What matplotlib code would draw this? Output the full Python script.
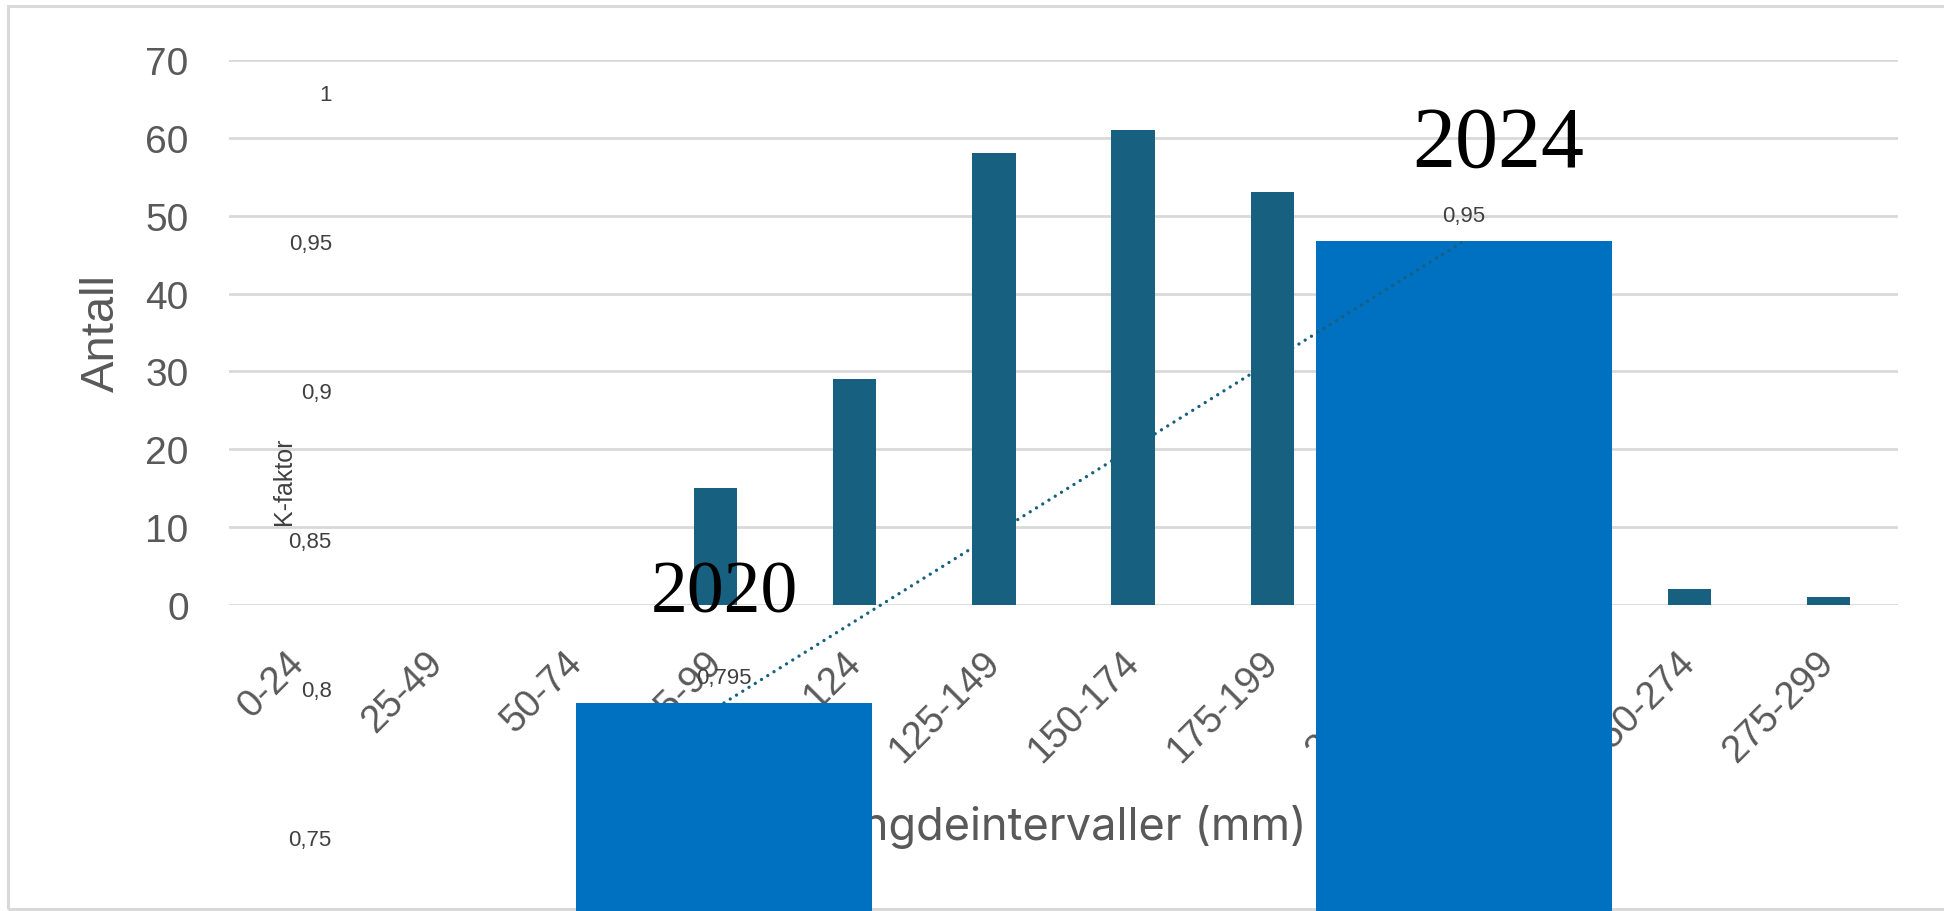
import numpy as np
import matplotlib
matplotlib.use("Agg")
import matplotlib.pyplot as plt
from matplotlib.patches import Rectangle
from matplotlib.lines import Line2D
from matplotlib.ticker import FixedLocator, FuncFormatter

# ---------------- data ----------------
length_bins = ["0-24", "25-49", "50-74", "75-99", "100-124", "125-149",
               "150-174", "175-199", "200-224", "225-249", "250-274", "275-299"]
counts = [0, 0, 0, 15, 29, 58, 61, 53, 30, 10, 2, 1]

years = ["2020", "2024"]
k_factor = [0.795, 0.95]
k_ticks = [0.75, 0.80, 0.85, 0.90, 0.95, 1.00]

# ---------------- style ----------------
TEAL = "#17607F"
BLUE = "#0070C0"
GRID = "#D9D9D9"
GRAY = "#595959"
DARK = "#404040"
W, H = 1944, 912

plt.rcParams["font.family"] = ["Liberation Sans", "DejaVu Sans"]

fig = plt.figure(figsize=(W / 100, H / 100), dpi=100)
fig.patch.set_facecolor("white")

def fig_rect(left, top, right, bottom):
    return [left / W, 1 - bottom / H, (right - left) / W, (bottom - top) / H]

# outer frame
fig.add_artist(Rectangle((8 / W, 1 - 910 / H), (1970 - 8) / W, (910 - 7) / H,
                         transform=fig.transFigure, fill=False, ec=GRID, lw=2.2,
                         zorder=-1, clip_on=False))

# ---------------- histogram (Antall) ----------------
ax1 = fig.add_axes(fig_rect(229, 61, 1898, 606))
ax1.set_zorder(0)
x = np.arange(len(length_bins))
ax1.set_xlim(-0.5, len(length_bins) - 0.5)
ax1.set_ylim(0, 70)
ax1.set_yticks(np.arange(0, 71, 10))
ax1.set_axisbelow(True)
ax1.yaxis.grid(True, color=GRID, lw=2.0)
for s in ax1.spines.values():
    s.set_visible(False)
ax1.bar(x, counts, width=0.31, color=TEAL, zorder=1)
ax1.set_xticks(x)
ax1.set_xticklabels(length_bins, rotation=45, ha="right", va="center",
                    rotation_mode="anchor", fontsize=27.5, color=GRAY)
ax1.tick_params(axis="x", length=0, pad=37)
ax1.tick_params(axis="y", length=0, pad=29, labelsize=28, labelcolor=GRAY)
ax1.set_ylabel("Antall", fontsize=34, color=GRAY, va="center")
ax1.yaxis.set_label_coords((102 - 229) / 1669, 0.5)
ax1.set_xlabel("Lengdeintervaller (mm)", fontsize=32.5, color=GRAY,
               family=["Inter", "DejaVu Sans"], va="baseline")
ax1.xaxis.set_label_coords(0.497, (606 - 840) / 545)

# ---------------- K-faktor chart ----------------
ax2 = fig.add_axes(fig_rect(354, 93, 1834, 912))
ax2.set_zorder(1)
ax2.patch.set_visible(False)
for s in ax2.spines.values():
    s.set_visible(False)
xk = np.arange(len(years))
ax2.set_xlim(-0.5, len(years) - 0.5)
ax2.set_ylim(1.0 - 819 / 2980, 1.0)
ax2.set_xticks([])
ax2.yaxis.set_major_locator(FixedLocator(k_ticks))
ax2.yaxis.set_major_formatter(FuncFormatter(lambda v, p: f"{v:g}".replace(".", ",")))
ax2.tick_params(axis="y", length=0, pad=16, labelsize=16, labelcolor=DARK)

kbars = ax2.bar(xk, k_factor, width=0.4, color=BLUE, zorder=1)

for i, v in enumerate(k_factor):
    ax2.annotate(f"{v:g}".replace(".", ","), (xk[i], v), xytext=(0, 18),
                 textcoords="offset points", ha="center", va="center",
                 fontsize=16, color=DARK, zorder=5)

# linear trend line through K-faktor values
coef = np.polyfit(xk, k_factor, 1)
yt = np.polyval(coef, xk)
dot_style = dict(color=TEAL, lw=2.4, linestyle=(0, (0.01, 2.2)),
                 dash_capstyle="round")
# copy drawn beneath the histogram bars
line_under = Line2D(xk, yt, transform=ax2.transData, zorder=0.8,
                    clip_on=False, **dot_style)
ax1.add_line(line_under)
# copy visible on top of the blue 2024 bar
line_over = Line2D(xk, yt, zorder=3, **dot_style)
ax2.add_line(line_over)
line_over.set_clip_path(kbars[1])

# year labels
ax2.text(0.0, 0.8258, years[0], ha="center", va="baseline", fontsize=53,
         family=["Liberation Serif", "DejaVu Serif"], color="black", zorder=6)
ax2.text(1.046, 0.9752, years[1], ha="center", va="baseline", fontsize=62,
         family=["Liberation Serif", "DejaVu Serif"], color="black", zorder=6)

fig.text(284 / W, 1 - 481 / H, "K-faktor", rotation=90, ha="center",
         va="center", fontsize=18, color=DARK)

fig.savefig("out.png", dpi=100, facecolor="white")
